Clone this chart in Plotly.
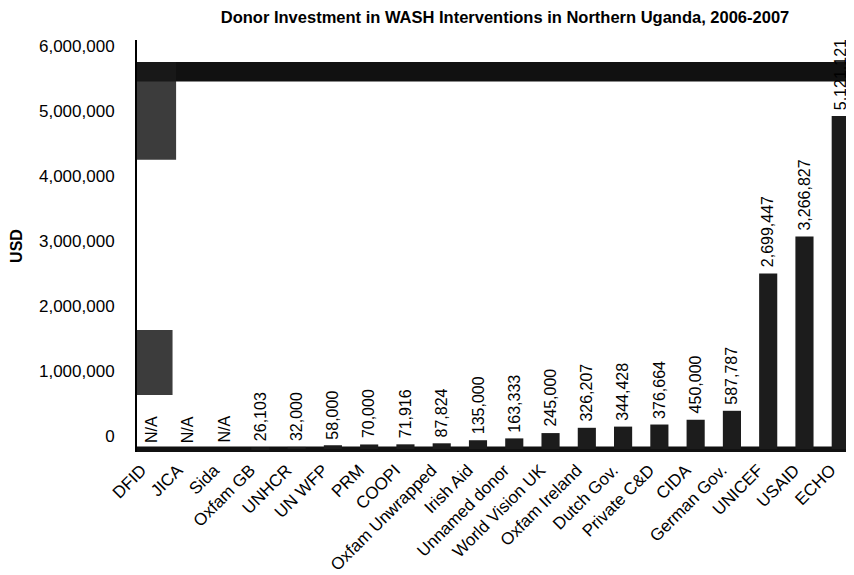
import plotly.graph_objects as go

# donors, ordered as in the chart
donors = ['DFID', 'JICA', 'Sida', 'Oxfam GB', 'UNHCR', 'UN WFP', 'PRM', 'COOPI',
          'Oxfam Unwrapped', 'Irish Aid', 'Unnamed donor', 'World Vision UK',
          'Oxfam Ireland', 'Dutch Gov.', 'Private C&D', 'CIDA', 'German Gov.',
          'UNICEF', 'USAID', 'ECHO']
# USD, None = not available
investment = [None, None, None, 26103, 32000, 58000, 70000, 71916, 87824, 135000,
              163333, 245000, 326207, 344428, 376664, 450000, 587787, 2699447,
              3266827, 5121121]
y_ticks = [0, 1000000, 2000000, 3000000, 4000000, 5000000, 6000000]

font = 'Arial, Liberation Sans, sans-serif'

values = [v if v is not None else 0 for v in investment]
labels = ['{:,}'.format(v) if v is not None else 'N/A' for v in investment]

bars = go.Bar(x=list(range(len(donors))),
              y=values,
              marker=dict(color='#1c1c1c', line=dict(width=0)),
              width=0.5,
              hoverinfo='x+y')

# value labels, rotated, sitting on top of each bar
notes = [dict(x=i, y=v, text=t, textangle=-90, showarrow=False,
              xanchor='center', yanchor='bottom', yshift=4,
              font=dict(family=font, size=16, color='black'))
         for i, (v, t) in enumerate(zip(values, labels))]

# the page body has an 8px margin, so the figure is sized 8px smaller
layout = go.Layout(
    width=846, height=567,
    paper_bgcolor='white', plot_bgcolor='white',
    font=dict(family=font, color='black'),
    margin=dict(l=129, r=6, t=32, b=123),
    showlegend=False,
    title=dict(text='<b>Donor Investment in WASH Interventions in Northern Uganda, 2006-2007</b>',
               x=0.5875, xanchor='center', y=0.984, yanchor='middle',
               font=dict(size=16.5)),
    xaxis=dict(range=[-0.4, 19.2],
               tickmode='array',
               tickvals=list(range(len(donors))),
               ticktext=donors,
               tickangle=-45,
               tickfont=dict(size=17),
               ticklabelshift=-10,
               ticklabelstandoff=4,
               automargin=False,
               showgrid=False, zeroline=False,
               showline=False),
    # tick labels sit on the back wall of the 3D chart, about 13px above the bars' scale
    yaxis=dict(range=[-46000, 6290000],
               tickmode='array',
               tickvals=y_ticks,
               tickformat=',d',
               tickfont=dict(size=17),
               ticklabelstandoff=17,
               ticklabelshift=-13,
               automargin=False,
               showgrid=False, zeroline=False,
               showline=True, linecolor='black', linewidth=2,
               title=dict(text='<b>USD</b>', font=dict(size=16), standoff=22)),
    annotations=notes,
    shapes=[
        # dark back wall band along the top (scan artefact of the 3D wall)
        dict(type='rect', xref='paper', yref='y', x0=0, x1=1, y0=5650000, y1=5950000,
             fillcolor='#111111', line=dict(width=0), layer='below'),
        # dark floor
        dict(type='rect', xref='paper', yref='y', x0=0, x1=1, y0=-46000, y1=40000,
             fillcolor='#111111', line=dict(width=0), layer='below'),
        # dark patches on the left wall
        dict(type='rect', xref='paper', yref='y', x0=0, x1=0.055, y0=4450000, y1=5950000,
             fillcolor='#1a1a1a', opacity=0.85, line=dict(width=0), layer='below'),
        dict(type='rect', xref='paper', yref='y', x0=0, x1=0.05, y0=830000, y1=1830000,
             fillcolor='#1a1a1a', opacity=0.85, line=dict(width=0), layer='below'),
    ],
)

fig = go.Figure(data=[bars], layout=layout)
fig.write_html('out.html')
